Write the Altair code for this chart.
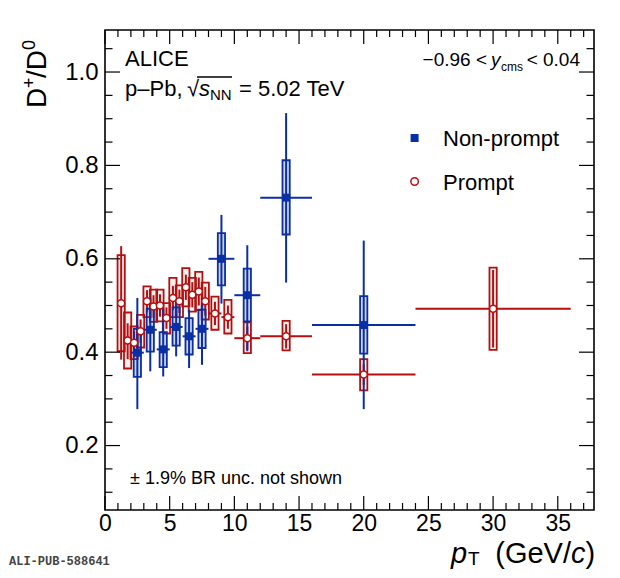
import altair as alt
import pandas as pd

# ---------------- data ----------------
# Non-prompt D+/D0
np_pt = [2.5, 3.5, 4.5, 5.5, 6.5, 7.5, 9.0, 11.0, 14.0, 20.0]
np_lo = [2, 3, 4, 5, 6, 7, 8, 10, 12, 16]
np_hi = [3, 4, 5, 6, 7, 8, 10, 12, 16, 24]
np_val = [0.399, 0.448, 0.406, 0.454, 0.434, 0.450, 0.600, 0.522, 0.731, 0.458]
np_stat_lo = [0.278, 0.359, 0.348, 0.391, 0.366, 0.373, 0.504, 0.402, 0.549, 0.278]
np_stat_hi = [0.516, 0.516, 0.494, 0.516, 0.491, 0.516, 0.694, 0.629, 0.912, 0.639]
np_syst_lo = [0.347, 0.401, 0.368, 0.414, 0.395, 0.409, 0.543, 0.466, 0.652, 0.397]
np_syst_hi = [0.450, 0.493, 0.443, 0.496, 0.473, 0.491, 0.655, 0.579, 0.811, 0.520]

# Prompt D+/D0
p_pt = [1.25, 1.75, 2.25, 2.75, 3.25, 3.75, 4.25, 4.75, 5.25, 5.75,
        6.25, 6.75, 7.25, 7.75, 8.5, 9.5, 11.0, 14.0, 20.0, 30.0]
p_lo = [1.0, 1.5, 2.0, 2.5, 3.0, 3.5, 4.0, 4.5, 5.0, 5.5,
        6.0, 6.5, 7.0, 7.5, 8, 9, 10, 12, 16, 24]
p_hi = [1.5, 2.0, 2.5, 3.0, 3.5, 4.0, 4.5, 5.0, 5.5, 6.0,
        6.5, 7.0, 7.5, 8.0, 9, 10, 12, 16, 24, 36]
p_val = [0.505, 0.425, 0.420, 0.445, 0.509, 0.498, 0.500, 0.473, 0.516, 0.509,
         0.539, 0.523, 0.530, 0.509, 0.483, 0.475, 0.430, 0.434, 0.352, 0.493]
p_stat_lo = [0.384, 0.385, 0.395, 0.420, 0.485, 0.474, 0.476, 0.450, 0.490, 0.484,
             0.512, 0.496, 0.500, 0.478, 0.458, 0.450, 0.405, 0.408, 0.330, 0.410]
p_stat_hi = [0.627, 0.462, 0.445, 0.470, 0.533, 0.522, 0.524, 0.496, 0.542, 0.534,
             0.566, 0.550, 0.560, 0.540, 0.508, 0.500, 0.455, 0.460, 0.374, 0.576]
p_syst_lo = [0.402, 0.365, 0.385, 0.410, 0.475, 0.465, 0.466, 0.440, 0.475, 0.475,
             0.498, 0.487, 0.490, 0.470, 0.448, 0.440, 0.398, 0.404, 0.318, 0.405]
p_syst_hi = [0.608, 0.485, 0.455, 0.480, 0.541, 0.534, 0.534, 0.505, 0.559, 0.543,
             0.580, 0.559, 0.572, 0.549, 0.519, 0.512, 0.464, 0.467, 0.385, 0.581]

x_major = [0, 5, 10, 15, 20, 25, 30, 35]
x_minor = [v for v in range(1, 38) if v % 5 != 0]
y_major = [0.2, 0.4, 0.6, 0.8, 1.0]
y_minor = [0.10, 0.15, 0.25, 0.30, 0.35, 0.45, 0.50, 0.55, 0.65, 0.70,
           0.75, 0.85, 0.90, 0.95, 1.05]

# ---------------- style ----------------
BLUE = "#0a2fa4"
RED = "#b40f0f"
FONT = "Liberation Sans"
W, H = 489, 480
X0, Y0 = 105, 30          # page position of plot area
BOXW = 0.28               # half width of syst boxes (GeV/c)

xscale = alt.Scale(domain=[0, 37.8], nice=False, zero=False)
yscale = alt.Scale(domain=[0.062, 1.09], nice=False, zero=False)

xaxis = alt.Axis(values=x_major, title=None, ticks=False, domain=False, grid=False,
                 labelFontSize=23, labelFont=FONT, labelColor="black",
                 labelPadding=2, labelFlush=False, labelOverlap=False)
yaxis = alt.Axis(values=y_major, format=".1f", title=None, ticks=False,
                 domain=False, grid=False, labelFontSize=24, labelFont=FONT,
                 labelColor="black", labelPadding=7, labelFlush=False,
                 labelOverlap=False)


def frame(pt, lo, hi, val, slo, shi, ylo, yhi):
    d = pd.DataFrame({"pt": pt, "lo": lo, "hi": hi, "val": val,
                      "slo": slo, "shi": shi, "ylo": ylo, "yhi": yhi})
    d["b0"] = d["pt"] - BOXW
    d["b1"] = d["pt"] + BOXW
    return d


npd = frame(np_pt, np_lo, np_hi, np_val, np_stat_lo, np_stat_hi, np_syst_lo, np_syst_hi)
pd_ = frame(p_pt, p_lo, p_hi, p_val, p_stat_lo, p_stat_hi, p_syst_lo, p_syst_hi)

X = lambda f: alt.X(f, type="quantitative", scale=xscale, axis=xaxis)
Y = lambda f: alt.Y(f, type="quantitative", scale=yscale, axis=yaxis)


def series(d, color, fill_op):
    boxes = alt.Chart(d).mark_rect(stroke=color, strokeWidth=1.8, fill=color,
                                   fillOpacity=fill_op).encode(
        x=X("b0"), x2="b1", y=Y("ylo"), y2="yhi")
    stat = alt.Chart(d).mark_rule(color=color, strokeWidth=2).encode(
        x=X("pt"), y=Y("slo"), y2="shi")
    xerr = alt.Chart(d).mark_rule(color=color, strokeWidth=2).encode(
        x=X("lo"), x2="hi", y=Y("val"))
    return [boxes, stat, xerr]


red_layers = series(pd_, RED, 0.06)
blue_layers = series(npd, BLUE, 0.2)

red_pts = alt.Chart(pd_).mark_point(shape="circle", filled=True, fill="white",
                                    stroke=RED, strokeWidth=1.5, size=49,
                                    opacity=1).encode(x=X("pt"), y=Y("val"))
blue_pts = alt.Chart(npd).mark_point(shape="square", filled=True, color=BLUE,
                                     size=64, opacity=1).encode(x=X("pt"), y=Y("val"))


# inward ticks on all four sides
def xticks(vals, ln):
    d = pd.DataFrame({"v": vals})
    bot = alt.Chart(d).mark_rule(color="black", strokeWidth=1.2).encode(
        x=X("v"), y=alt.value(H), y2=alt.value(H - ln))
    top = alt.Chart(d).mark_rule(color="black", strokeWidth=1.2).encode(
        x=X("v"), y=alt.value(0), y2=alt.value(ln))
    return [bot, top]


def yticks(vals, ln):
    d = pd.DataFrame({"v": vals})
    left = alt.Chart(d).mark_rule(color="black", strokeWidth=1.2).encode(
        y=Y("v"), x=alt.value(0), x2=alt.value(ln))
    right = alt.Chart(d).mark_rule(color="black", strokeWidth=1.2).encode(
        y=Y("v"), x=alt.value(W), x2=alt.value(W - ln))
    return [left, right]


tick_layers = xticks(x_major, 14) + xticks(x_minor, 7) + yticks(y_major, 15) + yticks(y_minor, 7.5)

one = pd.DataFrame({"a": [0]})


def txt(s, x, y, size, style="normal", align="left", angle=0, font=FONT,
        color="black", weight="normal"):
    return alt.Chart(one).mark_text(
        text=s, align=align, baseline="alphabetic", fontSize=size, fontStyle=style,
        font=font, angle=angle, color=color, fontWeight=weight).encode(
        x=alt.value(x - X0), y=alt.value(y - Y0))


texts = [
    txt("ALICE", 125, 66, 22),
    txt("p\u2013Pb,", 125, 96, 22),
    txt("\u221a", 187, 96, 22),
    txt("s", 199, 96, 22, style="italic"),
    txt("NN", 210, 100, 15),
    txt("= 5.02 TeV", 239, 96, 22),
    txt("\u22120.96 <", 487, 66, 19, align="right"),
    txt("y", 491, 66, 19, style="italic"),
    txt("cms", 501, 71, 12),
    txt("< 0.04", 580, 66, 19, align="right"),
    txt("Non-prompt", 443, 146, 22),
    txt("Prompt", 443, 190, 22),
    txt("\u00b1 1.9% BR unc. not shown", 130, 484, 18),
    # x title
    txt("p", 451, 563, 29, style="italic"),
    txt("T", 468, 565, 19),
    txt("(GeV/", 571, 563, 29, align="right"),
    txt("c", 571, 563, 29, style="italic"),
    txt(")", 585.5, 563, 29),
    # y title (rotated)
    txt("D", 46, 108, 28, angle=270),
    txt("+", 35, 88, 18, angle=270),
    txt("/D", 46, 78, 28, angle=270),
    txt("0", 35, 50, 18, angle=270),
    txt("ALI-PUB-588641", 9, 565, 12, font="Liberation Mono", color="#444444",
        weight="bold"),
]

# overline of the square root
sqrt_bar = alt.Chart(one).mark_rule(color="black", strokeWidth=1.3).encode(
    x=alt.value(197 - X0), x2=alt.value(232 - X0), y=alt.value(77 - Y0))

legend_pts = [
    alt.Chart(one).mark_point(shape="square", filled=True, color=BLUE, size=64,
                              opacity=1).encode(x=alt.value(414.6 - X0), y=alt.value(138 - Y0)),
    alt.Chart(one).mark_point(shape="circle", filled=True, fill="white", stroke=RED,
                              strokeWidth=1.5, size=56, opacity=1).encode(
        x=alt.value(414.6 - X0), y=alt.value(181.5 - Y0)),
]

chart = alt.layer(
    *red_layers, *blue_layers, red_pts, blue_pts, *tick_layers,
    *texts, sqrt_bar, *legend_pts
).properties(
    width=W, height=H,
    autosize=alt.AutoSizeParams(type="none"),
    padding={"left": X0 - 8, "top": Y0 - 8, "right": 14, "bottom": 60},
    background="white",
).configure_view(stroke="black", strokeWidth=1.6)

chart.save("out.html", embed_options={"renderer": "svg", "actions": False})
